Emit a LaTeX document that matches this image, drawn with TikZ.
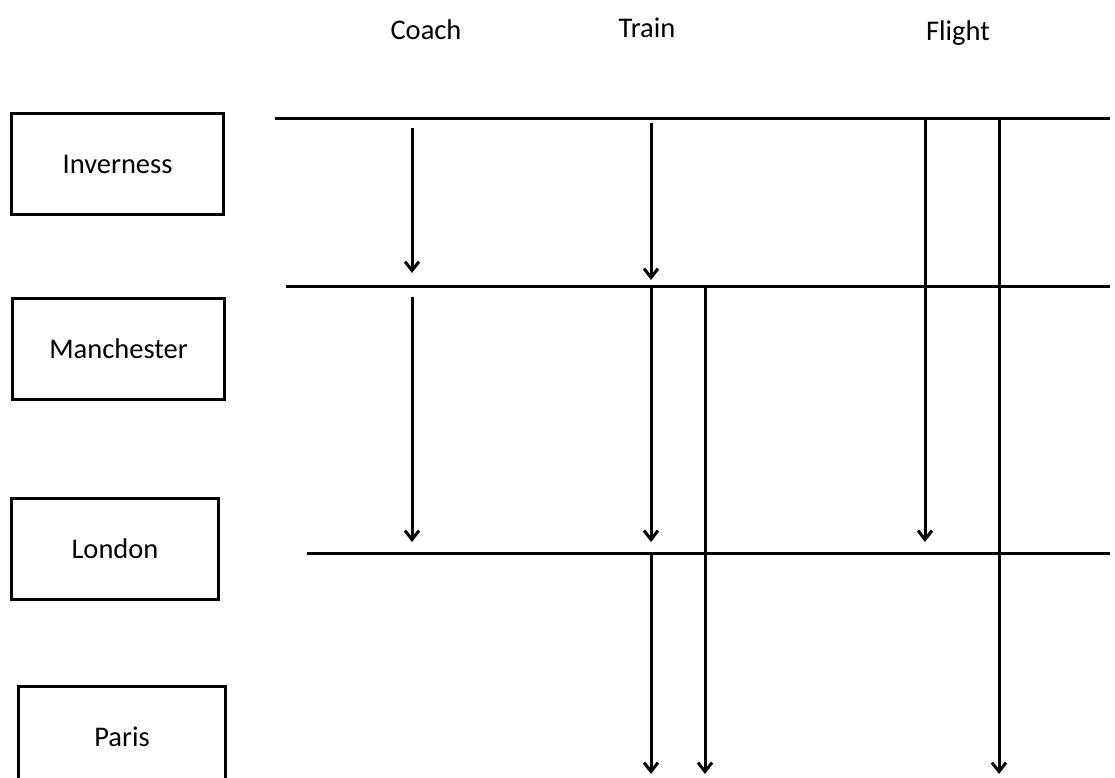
\documentclass[tikz,border=0pt]{standalone}
\usepackage{fontspec}
\setmainfont{Carlito}
\usetikzlibrary{arrows.meta}
\begin{document}
\begin{tikzpicture}[x=1pt,y=-1pt,
  every node/.style={font=\fontsize{28.5}{34}\selectfont},
  city/.style={draw, line width=3pt, inner sep=0pt, anchor=north west,
    minimum height=101pt},
  mode/.style={anchor=base},
  rail/.style={line width=3pt},
  route/.style={line width=3pt, -{Straight Barb[length=9pt,width=14pt]}}]
\clip (0,0) rectangle (1115,777);

% transport modes
\node[mode] (coach)  at (426,39) {Coach};
\node[mode] (train)  at (647,37) {Train};
\node[mode] (flight) at (958,40) {Flight};

% cities
\node[city, minimum width=212pt] (inv) at (10,112) {Inverness};
\node[city, minimum width=212pt] (man) at (11,297) {Manchester};
\node[city, minimum width=207pt] (lon) at (10,497) {London};
\node[city, minimum width=207pt] (par) at (17,685) {Paris};

% city levels
\coordinate (invL) at (275,118);  \coordinate (invR) at (1110,118);
\coordinate (manL) at (286,286);  \coordinate (manR) at (1110,286);
\coordinate (lonL) at (307,553);  \coordinate (lonR) at (1110,553);
\draw[rail] (invL) -- (invR);
\draw[rail] (manL) -- (manR);
\draw[rail] (lonL) -- (lonR);

% coach
\coordinate (c1) at (412,128); \coordinate (c2) at (412,273);
\coordinate (c3) at (412,297); \coordinate (c4) at (412,542);
\draw[route] (c1) -- (c2);
\draw[route] (c3) -- (c4);

% train
\coordinate (t1) at (651,123); \coordinate (t2) at (651,280);
\coordinate (t3) at (651,286); \coordinate (t4) at (651,542);
\coordinate (t5) at (651,553); \coordinate (t6) at (651,774);
\coordinate (u1) at (705,286); \coordinate (u2) at (705,774);
\draw[route] (t1) -- (t2);
\draw[route] (t3) -- (t4);
\draw[route] (t5) -- (t6);
\draw[route] (u1) -- (u2);

% flight
\coordinate (f1) at (925,118); \coordinate (f2) at (925,542);
\coordinate (g1) at (999,118); \coordinate (g2) at (999,774);
\draw[route] (f1) -- (f2);
\draw[route] (g1) -- (g2);
\end{tikzpicture}
\end{document}
